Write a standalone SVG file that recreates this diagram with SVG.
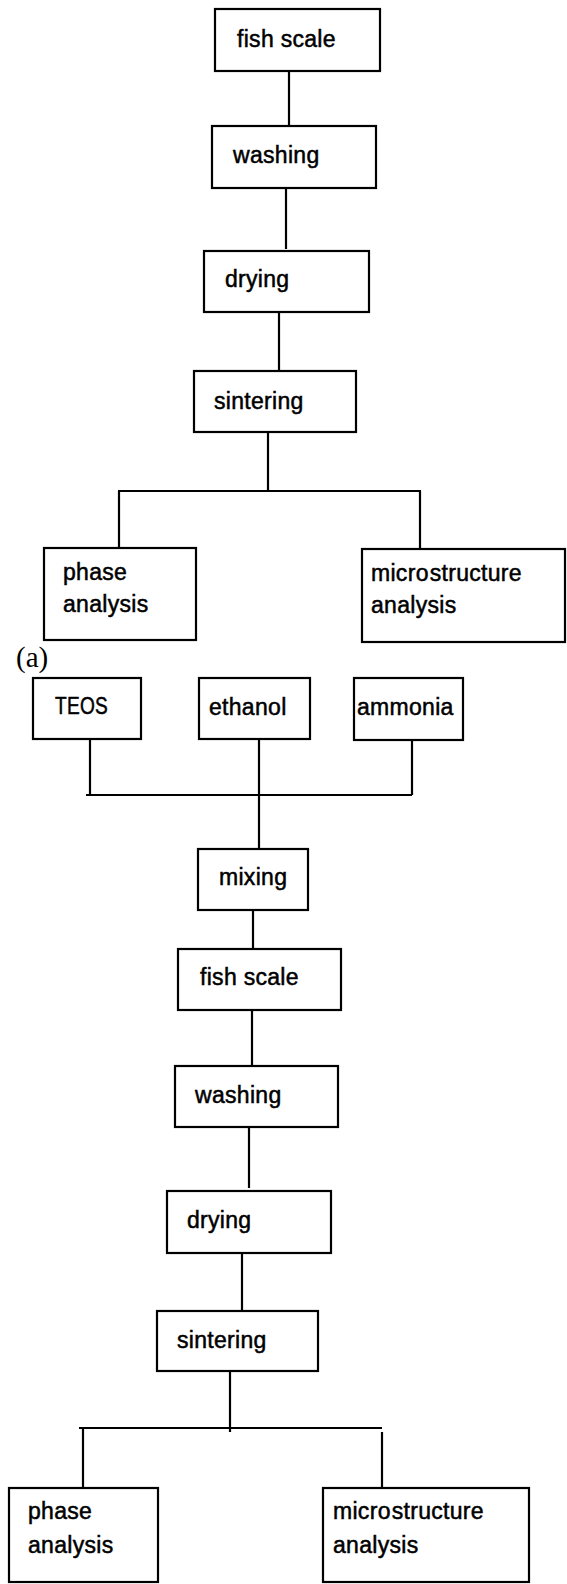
<svg xmlns="http://www.w3.org/2000/svg" width="567" height="1584" viewBox="0 0 567 1584">
<style>
  rect.box { fill: #fff; stroke: #000; stroke-width: 2.2; }
  text.lbl { font-family: "Liberation Sans", Arial, sans-serif; font-size: 23px; fill: #000; stroke: #000; stroke-width: 0.5; letter-spacing: 0.3px; }
  text.tag { font-family: "Liberation Serif", "Times New Roman", serif; font-size: 29px; fill: #000; }
  g#connectors line { stroke: #000; stroke-width: 2.2; fill: none; }
</style>
<rect x="0" y="0" width="567" height="1584" fill="#fff"/>
<g id="connectors">
  <line x1="289" y1="71" x2="289" y2="126"/>
  <line x1="286" y1="188" x2="286" y2="249"/>
  <line x1="279" y1="312" x2="279" y2="371"/>
  <line x1="268" y1="432" x2="268" y2="491"/>
  <line x1="118" y1="491" x2="421" y2="491"/>
  <line x1="119" y1="491" x2="119" y2="548"/>
  <line x1="420" y1="491" x2="420" y2="549"/>
  <line x1="90" y1="739" x2="90" y2="795"/>
  <line x1="259" y1="739" x2="259" y2="849"/>
  <line x1="412" y1="740" x2="412" y2="795"/>
  <line x1="86" y1="795" x2="412" y2="795"/>
  <line x1="253" y1="910" x2="253" y2="949"/>
  <line x1="252" y1="1010" x2="252" y2="1066"/>
  <line x1="249" y1="1127" x2="249" y2="1188"/>
  <line x1="242" y1="1253" x2="242" y2="1311"/>
  <line x1="230" y1="1371" x2="230" y2="1432"/>
  <line x1="79" y1="1428" x2="382" y2="1428"/>
  <line x1="83" y1="1428" x2="83" y2="1488"/>
  <line x1="382" y1="1432" x2="382" y2="1488"/>
</g>
<g id="fish-scale-a"><rect class="box" x="215" y="9" width="165" height="62"/><text class="lbl" x="237" y="47">fish scale</text></g>
<g id="washing-a"><rect class="box" x="212" y="126" width="164" height="62"/><text class="lbl" x="233" y="163">washing</text></g>
<g id="drying-a"><rect class="box" x="204" y="251" width="165" height="61"/><text class="lbl" x="225" y="287">drying</text></g>
<g id="sintering-a"><rect class="box" x="194" y="371" width="162" height="61"/><text class="lbl" x="214" y="409">sintering</text></g>
<g id="phase-analysis-a"><rect class="box" x="44" y="548" width="152" height="92"/><text class="lbl" x="63" y="580">phase</text><text class="lbl" x="63" y="612">analysis</text></g>
<g id="microstructure-analysis-a"><rect class="box" x="362" y="549" width="203" height="93"/><text class="lbl" x="371" y="581">micro<tspan dx="1">structure</tspan></text><text class="lbl" x="371" y="613">analysis</text></g>
<g id="label-a"><text class="tag" x="16" y="667">(a)</text></g>
<g id="teos"><rect class="box" x="33" y="678" width="108" height="61"/><text class="lbl" x="55" y="714" textLength="53" lengthAdjust="spacingAndGlyphs">TEOS</text></g>
<g id="ethanol"><rect class="box" x="199" y="678" width="111" height="61"/><text class="lbl" x="209" y="715">ethanol</text></g>
<g id="ammonia"><rect class="box" x="354" y="678" width="109" height="62"/><text class="lbl" x="357" y="715">ammonia</text></g>
<g id="mixing"><rect class="box" x="198" y="849" width="110" height="61"/><text class="lbl" x="219" y="885">mixing</text></g>
<g id="fish-scale-b"><rect class="box" x="178" y="949" width="163" height="61"/><text class="lbl" x="200" y="985">fish scale</text></g>
<g id="washing-b"><rect class="box" x="175" y="1066" width="163" height="61"/><text class="lbl" x="195" y="1103">washing</text></g>
<g id="drying-b"><rect class="box" x="167" y="1191" width="164" height="62"/><text class="lbl" x="187" y="1228">drying</text></g>
<g id="sintering-b"><rect class="box" x="157" y="1311" width="161" height="60"/><text class="lbl" x="177" y="1348">sintering</text></g>
<g id="phase-analysis-b"><rect class="box" x="9" y="1488" width="149" height="94"/><text class="lbl" x="28" y="1519">phase</text><text class="lbl" x="28" y="1553">analysis</text></g>
<g id="microstructure-analysis-b"><rect class="box" x="323" y="1488" width="206" height="94"/><text class="lbl" x="333" y="1519">micro<tspan dx="1">structure</tspan></text><text class="lbl" x="333" y="1553">analysis</text></g>
</svg>
